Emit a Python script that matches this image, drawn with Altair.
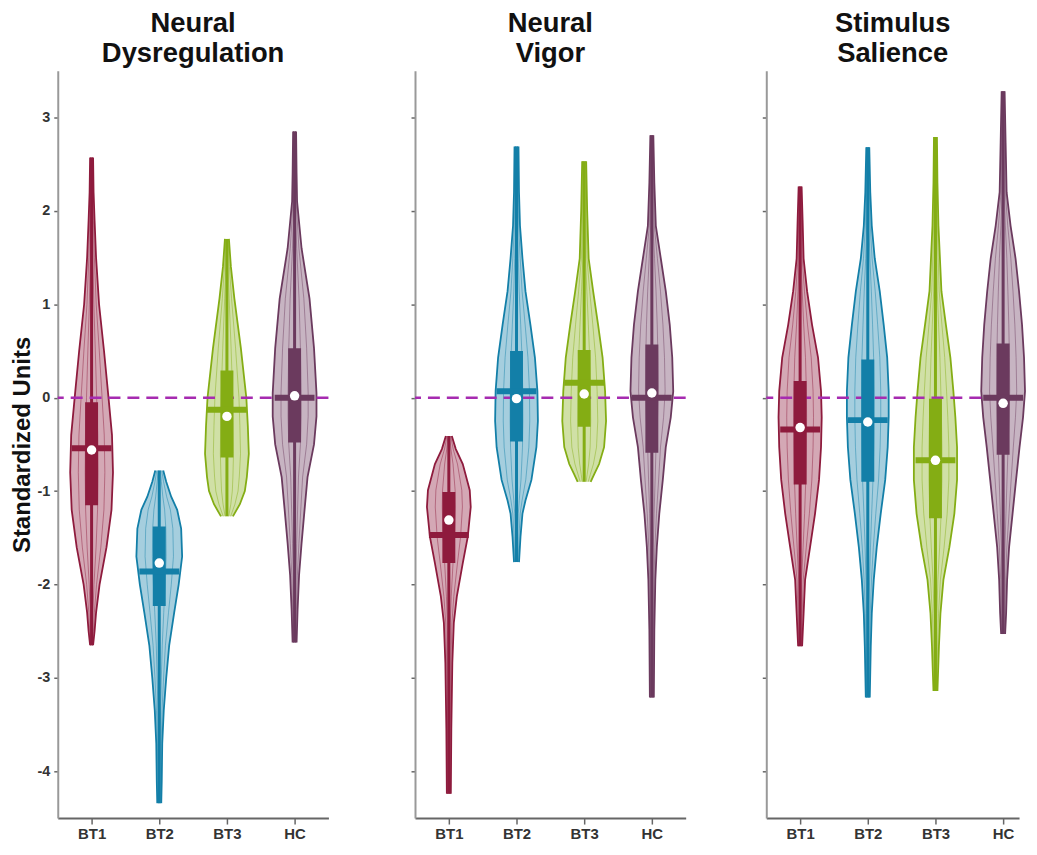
import altair as alt
import pandas as pd

GROUPS = ["BT1", "BT2", "BT3", "HC"]
COLORS = ["#8E1B3D", "#137FA8", "#84AD14", "#6B3A5E"]
PANEL_TITLES = [["Neural", "Dysregulation"], ["Neural", "Vigor"], ["Stimulus", "Salience"]]
Y_TICKS = [-4, -3, -2, -1, 0, 1, 2, 3]

# violin outlines: (value, half-width in px)
nd_bt1 = [(2.57, 1.5), (2.2, 2), (1.9, 3), (1.5, 4.5), (1.0, 7.5), (0.5, 12.5), (0.0, 17), (-0.4, 20.5),
          (-0.8, 21.5), (-1.2, 20), (-1.6, 15), (-2.0, 8), (-2.3, 4.5), (-2.5, 3), (-2.65, 1.5)]
nd_bt2 = [(-0.78, 4), (-0.9, 7), (-1.06, 12), (-1.2, 18), (-1.4, 22), (-1.7, 23), (-2.0, 19.5), (-2.3, 15),
          (-2.65, 10), (-3.0, 7), (-3.35, 4.5), (-3.7, 3), (-4.1, 2.5), (-4.34, 2)]
nd_bt3 = [(1.70, 2), (1.4, 4), (1.06, 7.5), (0.53, 14), (0.0, 19.5), (-0.3, 21), (-0.6, 22), (-0.85, 20),
          (-1.0, 18), (-1.14, 13), (-1.27, 6)]
nd_hc = [(2.85, 1.5), (2.4, 2), (2.1, 2.5), (1.6, 7), (1.06, 15), (0.53, 19.5), (0.05, 22), (-0.2, 22),
         (-0.5, 19.5), (-0.85, 13), (-1.2, 10), (-1.56, 7), (-1.9, 4.5), (-2.27, 3), (-2.62, 2)]

nv_bt1 = [(-0.41, 3), (-0.55, 7), (-0.71, 14), (-0.99, 21), (-1.17, 22), (-1.49, 19), (-1.77, 14), (-2.13, 8),
          (-2.41, 5), (-2.84, 3.5), (-3.54, 2.5), (-4.24, 2)]
nv_bt2 = [(2.69, 2), (2.2, 2.5), (1.84, 3.5), (1.49, 6), (1.14, 9), (0.78, 14), (0.43, 18.5), (0.07, 21),
          (-0.25, 21.5), (-0.53, 20), (-0.88, 15), (-1.1, 9), (-1.24, 6), (-1.49, 4), (-1.76, 2.5)]
nv_bt3 = [(2.53, 2), (2.0, 3), (1.49, 4.5), (1.14, 9), (0.78, 14), (0.43, 18.5), (0.07, 21), (-0.25, 22),
          (-0.53, 20), (-0.71, 15), (-0.82, 10), (-0.9, 6.5)]
nv_hc = [(2.81, 1.5), (2.3, 2.5), (1.84, 4), (1.49, 9), (1.14, 14), (0.78, 18), (0.43, 20.5), (0.07, 21.5),
         (-0.21, 19), (-0.53, 14), (-0.88, 11), (-1.24, 7.5), (-1.6, 5), (-1.95, 3.5), (-2.48, 2.5), (-3.21, 2)]

ss_bt1 = [(2.26, 1.5), (1.9, 2.5), (1.49, 3.5), (1.14, 7), (0.78, 12), (0.43, 18), (0.07, 21), (-0.21, 21.7),
          (-0.53, 21), (-0.88, 19), (-1.24, 15), (-1.6, 10), (-1.95, 5), (-2.31, 3.5), (-2.66, 2)]
ss_bt2 = [(2.68, 1.5), (2.2, 2.5), (1.84, 4), (1.49, 7), (1.14, 12), (0.78, 16), (0.43, 19.5), (0.07, 21),
          (-0.21, 21), (-0.53, 20), (-0.88, 17.5), (-1.24, 13), (-1.6, 9), (-1.95, 6), (-2.31, 4), (-2.66, 3),
          (-3.21, 2)]
ss_bt3 = [(2.79, 1.5), (2.3, 2), (1.84, 3), (1.14, 6), (0.78, 10.5), (0.43, 15), (0.07, 18), (-0.21, 20),
          (-0.53, 21.7), (-0.88, 21.7), (-1.24, 19), (-1.6, 14), (-1.95, 8), (-2.31, 5), (-2.66, 3.5), (-3.14, 2)]
ss_hc = [(3.28, 1.5), (2.73, 2.5), (2.2, 3.5), (1.84, 7.5), (1.49, 12.5), (1.14, 16), (0.78, 19), (0.43, 21),
         (0.07, 22), (-0.21, 20), (-0.53, 16.5), (-0.88, 13), (-1.24, 9.5), (-1.6, 6), (-1.95, 4), (-2.31, 3),
         (-2.53, 2)]

# box statistics per group (BT1, BT2, BT3, HC)
nd_q1 = [-1.15, -2.23, -0.64, -0.48]
nd_q3 = [-0.05, -1.38, 0.29, 0.53]
nd_median = [-0.54, -1.86, -0.13, 0.0]
nd_mean = [-0.56, -1.77, -0.20, 0.02]

nv_q1 = [-1.77, -0.47, -0.31, -0.59]
nv_q3 = [-1.01, 0.50, 0.51, 0.57]
nv_median = [-1.47, 0.07, 0.16, 0.0]
nv_mean = [-1.31, -0.01, 0.04, 0.05]

ss_q1 = [-0.93, -0.90, -1.29, -0.61]
ss_q3 = [0.18, 0.41, -0.01, 0.58]
ss_median = [-0.34, -0.24, -0.67, 0.0]
ss_mean = [-0.32, -0.26, -0.67, -0.06]

STEP = 68.0
PLOT_W = [272, 272, 254]
PLOT_H = 751
Y_DOMAIN = [-4.5, 3.5]
FONT = "Liberation Sans, Arial, sans-serif"

color_enc = alt.Color("group:N", scale=alt.Scale(domain=GROUPS, range=COLORS), legend=None)


def panel(idx, profs, q1, q3, med, mean):
    W = PLOT_W[idx]
    xs = alt.Scale(domain=[0, W / STEP], nice=False, zero=False)
    ys = alt.Scale(domain=Y_DOMAIN, nice=False, zero=False)
    first = idx == 0
    xaxis = alt.Axis(values=[0.5, 1.5, 2.5, 3.5],
                     labelExpr="['BT1','BT2','BT3','HC'][floor(datum.value)]",
                     title=None, grid=False, tickSize=6, tickColor="#666", tickWidth=1.5,
                     domainColor="#666", domainWidth=2, labelFontSize=15, labelFontWeight="bold",
                     labelColor="#333", labelPadding=3, labelFont=FONT)
    yaxis = alt.Axis(values=Y_TICKS, grid=False, tickSize=4, tickColor="#666", tickWidth=1.5,
                     domainColor="#999", domainWidth=2, labels=first, labelFontSize=14.5,
                     labelExpr="datum.value < 0 ? '-' + abs(datum.value) : '' + datum.value",
                     labelFontWeight="bold", labelColor="#333", labelPadding=4, labelFont=FONT,
                     title="Standardized Units" if first else None, titleFontSize=24,
                     titleFontWeight="bold", titleColor="#111", titlePadding=3, titleFont=FONT)

    area_rows, line_rows, stat_rows = [], [], []
    for gi, (g, prof) in enumerate(zip(GROUPS, profs)):
        pos = gi + 0.5
        pts = sorted(prof)
        for y, w in pts:
            u = w / STEP
            area_rows.append(dict(group=g, y=y, lo=pos - u, hi=pos + u))
            for f in (1.0, 0.62, 0.3):
                for s in (-1, 1):
                    line_rows.append(dict(group=g, y=y, x=pos + s * f * u,
                                          key=f"{g}_{f}_{s}", outer=(f == 1.0)))
        stat_rows.append(dict(group=g, pos=pos, q1=q1[gi], q3=q3[gi], med=med[gi], mean=mean[gi],
                              ymin=pts[0][0], ymax=pts[-1][0],
                              mlo=pos - 20 / STEP, mhi=pos + 20 / STEP))
    adf = pd.DataFrame(area_rows)
    ldf = pd.DataFrame(line_rows)
    sdf = pd.DataFrame(stat_rows)

    fill = alt.Chart(adf).mark_area(orient="horizontal", opacity=0.38).encode(
        y=alt.Y("y:Q", scale=ys, axis=yaxis),
        x=alt.X("lo:Q", scale=xs, axis=xaxis),
        x2="hi:Q",
        color=color_enc,
        detail="group:N",
    )
    inner = alt.Chart(ldf[~ldf["outer"]]).mark_line(strokeWidth=1, opacity=0.45).encode(
        y=alt.Y("y:Q", scale=ys, axis=yaxis),
        x=alt.X("x:Q", scale=xs, axis=xaxis),
        color=color_enc,
        detail="key:N",
        order=alt.Order("y:Q"),
    )
    outline = alt.Chart(ldf[ldf["outer"]]).mark_line(strokeWidth=1.8).encode(
        y=alt.Y("y:Q", scale=ys, axis=yaxis),
        x=alt.X("x:Q", scale=xs, axis=xaxis),
        color=color_enc,
        detail="key:N",
        order=alt.Order("y:Q"),
    )
    whisker = alt.Chart(sdf).mark_rule(strokeWidth=3).encode(
        x=alt.X("pos:Q", scale=xs, axis=xaxis),
        y=alt.Y("ymin:Q", scale=ys, axis=yaxis),
        y2="ymax:Q",
        color=color_enc,
    )
    zero = alt.Chart(pd.DataFrame({"y": [0]})).mark_rule(
        strokeDash=[12, 7], strokeWidth=2.5, color="#A62BB0").encode(
        y=alt.Y("y:Q", scale=ys, axis=yaxis),
    )
    box = alt.Chart(sdf).mark_rule(strokeWidth=13, strokeCap="butt").encode(
        x=alt.X("pos:Q", scale=xs, axis=xaxis),
        y=alt.Y("q1:Q", scale=ys, axis=yaxis),
        y2="q3:Q",
        color=color_enc,
    )
    median = alt.Chart(sdf).mark_rule(strokeWidth=6, strokeCap="butt").encode(
        x=alt.X("mlo:Q", scale=xs, axis=xaxis),
        x2="mhi:Q",
        y=alt.Y("med:Q", scale=ys, axis=yaxis),
        color=color_enc,
    )
    meanpt = alt.Chart(sdf).mark_point(filled=True, color="white", size=90, opacity=1).encode(
        x=alt.X("pos:Q", scale=xs, axis=xaxis),
        y=alt.Y("mean:Q", scale=ys, axis=yaxis),
    )
    return alt.layer(fill, inner, outline, whisker, zero, box, median, meanpt).properties(
        width=W, height=PLOT_H,
        title=alt.TitleParams(text=PANEL_TITLES[idx], fontSize=27.5, fontWeight="bold", font=FONT,
                              anchor="middle", offset=3.5, lineHeight=30, color="#111"),
    )


p1 = panel(0, [nd_bt1, nd_bt2, nd_bt3, nd_hc], nd_q1, nd_q3, nd_median, nd_mean)
p2 = panel(1, [nv_bt1, nv_bt2, nv_bt3, nv_hc], nv_q1, nv_q3, nv_median, nv_mean)
p3 = panel(2, [ss_bt1, ss_bt2, ss_bt3, ss_hc], ss_q1, ss_q3, ss_median, ss_mean)

left_pair = alt.hconcat(p1, p2, spacing=80)
chart = alt.hconcat(left_pair, p3, spacing=74).properties(
    padding={"left": 2, "top": 0, "right": 0, "bottom": 0}
).configure_view(stroke=None).resolve_scale(color="shared")

chart.save("out.html", embed_options={"renderer": "svg", "actions": False})
